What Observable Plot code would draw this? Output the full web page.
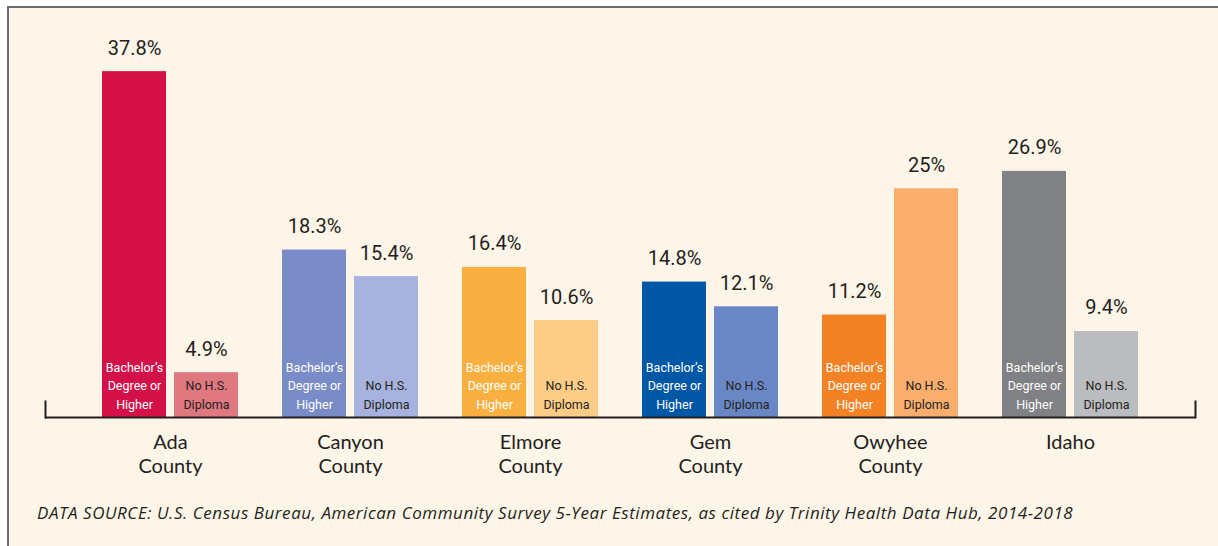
<!DOCTYPE html>
<html>
<head>
<meta charset="utf-8">
<script src="https://cdn.jsdelivr.net/npm/d3@7"></script>
<script src="https://cdn.jsdelivr.net/npm/@observablehq/plot@0.6"></script>
<style>
  html, body { margin: 0; padding: 0; background: #ffffff; width: 1218px; height: 546px; overflow: hidden; }
  #panel { position: absolute; left: 7px; top: 6px; width: 1230px; height: 560px;
           border-left: 2px solid #6d6e71; border-top: 2px solid #6d6e71; background: #fef5e9; }
  #chart { position: absolute; left: 0; top: 0; }
  #caption { position: absolute; left: 37px; top: 501px; font-family: "Open Sans", Lato, sans-serif;
             font-style: italic; font-size: 17px; letter-spacing: 0.55px; color: #231f20; white-space: nowrap; }
</style>
</head>
<body>
<div id="panel"></div>
<div id="chart"></div>
<div id="caption">DATA SOURCE: U.S. Census Bureau, American Community Survey 5-Year Estimates, as cited by Trinity Health Data Hub, 2014-2018</div>
<script>
// ---- data ----
const counties = ["Ada", "Canyon", "Elmore", "Gem", "Owyhee", "Idaho"];
const countyLabels = ["Ada\nCounty", "Canyon\nCounty", "Elmore\nCounty", "Gem\nCounty", "Owyhee\nCounty", "Idaho"];
const bachelorsOrHigher = [37.8, 18.3, 16.4, 14.8, 11.2, 26.9];
const noHSDiploma = [4.9, 15.4, 10.6, 12.1, 25, 9.4];
const seriesLabels = ["Bachelor\u2019s\nDegree or\nHigher", "No H.S.\nDiploma"];
// palettes
const bachelorsColors = ["#d31048", "#7a8cc7", "#f9b040", "#0057a6", "#f38224", "#808184"];
const noHSColors = ["#e07880", "#a7b3de", "#fdcd88", "#6a87c5", "#f9ae6e", "#bbbcbf"];

const bach = counties.map((c, i) => ({county: c, value: bachelorsOrHigher[i], color: bachelorsColors[i]}));
const nohs = counties.map((c, i) => ({county: c, value: noHSDiploma[i], color: noHSColors[i]}));
const labelOf = new Map(counties.map((c, i) => [c, countyLabels[i]]));

const valueFont = "Roboto, sans-serif";
const barFont = "Roboto, sans-serif";

const chart = Plot.plot({
  width: 1218,
  height: 490,
  marginTop: 51,
  marginBottom: 73,
  marginLeft: 45,
  marginRight: 23,
  style: {background: "transparent", overflow: "visible"},
  x: {domain: counties, paddingInner: 0.247, paddingOuter: 0.31, axis: null},
  y: {domain: [0, 40], axis: null},
  marks: [
    Plot.barY(bach, {x: "county", y: "value", fill: "color", insetRight: 72}),
    Plot.barY(nohs, {x: "county", y: "value", fill: "color", insetLeft: 72}),
    Plot.text(bach, {x: "county", y: "value", text: d => d.value + "%", dx: -36, dy: -17,
      lineAnchor: "bottom", fontSize: 20, fontFamily: valueFont, fill: "#231f20"}),
    Plot.text(nohs, {x: "county", y: "value", text: d => d.value + "%", dx: 36, dy: -17,
      lineAnchor: "bottom", fontSize: 20, fontFamily: valueFont, fill: "#231f20"}),
    Plot.text(bach, {x: "county", y: 0, text: () => seriesLabels[0], dx: -36, dy: -9,
      lineAnchor: "bottom", lineHeight: 1.46, fontSize: 12.5, fontFamily: barFont, fill: "#ffffff"}),
    Plot.text(nohs, {x: "county", y: 0, text: () => seriesLabels[1], dx: 36, dy: -9,
      lineAnchor: "bottom", lineHeight: 1.46, fontSize: 12.5, fontFamily: barFont, fill: "#231f20"}),
    Plot.text(counties, {x: d => d, y: 0, text: d => labelOf.get(d), dy: 14,
      lineAnchor: "top", lineHeight: 1.22, fontSize: 20, fontFamily: "Lato, sans-serif", fill: "#231f20"}),
    Plot.ruleY([0], {stroke: "#231f20", strokeWidth: 2}),
    Plot.frame({anchor: "left", insetTop: 350, stroke: "#231f20", strokeWidth: 2}),
    Plot.frame({anchor: "right", insetTop: 350, stroke: "#231f20", strokeWidth: 2})
  ]
});
document.getElementById("chart").append(chart);
</script>
</body>
</html>
